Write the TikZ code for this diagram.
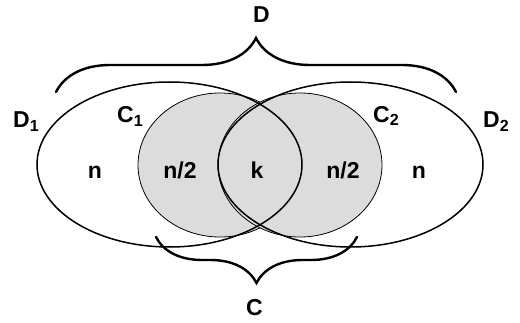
\documentclass[tikz,border=0pt]{standalone}
\usepackage{fontspec}
\setmainfont{Liberation Sans}
\usetikzlibrary{positioning,shapes.geometric,decorations.pathreplacing}
\definecolor{shade}{RGB}{220,220,220}
\tikzset{
  outer/.style={draw,ellipse,line width=1.5pt,minimum width=265pt,minimum height=165pt,inner sep=0pt},
  inner/.style={draw,ellipse,line width=0.8pt,fill=shade,minimum width=164pt,minimum height=144pt,inner sep=0pt},
  lab/.style={font=\fontsize{23}{26}\selectfont\bfseries,inner sep=0pt},
  brc/.style={decorate,line width=2.4pt,line cap=round}
}
\begin{document}
\begin{tikzpicture}[x=1pt,y=1pt]
    \useasboundingbox (0,0) rectangle (520,322);
    \node[inner] (C1) at (220,157) {};
    \node[inner] (C2) at (300,157) {};
    \node[outer] (D1) at (169.5,157.5) {};
    \node[outer] (D2) at (350.5,157.5) {};
    % region counts
    \foreach \x/\t [count=\i] in {95/n,180/n\slash2,257/k,343/n\slash2,419/n}
      \node[lab,anchor=base] (R\i) at (\x,144) {\t};
    % set labels
    \node[lab,anchor=base west] (lD1) at (13,194) {D\textsubscript{1}};
    \node[lab,anchor=base west] (lC1) at (117,199) {C\textsubscript{1}};
    \node[lab,anchor=base west] (lC2) at (373,200) {C\textsubscript{2}};
    \node[lab,anchor=base west] (lD2) at (483,194) {D\textsubscript{2}};
    \node[lab,anchor=base] (lD) at (261.5,299) {D};
    \node[lab,anchor=base] (lC) at (254.5,7) {C};
    % braces
    \coordinate (tl) at (56,230);
    \coordinate (tr) at (456,230);
    \coordinate (bl) at (156,85);
    \coordinate (br) at (357,85);
    \draw[brc,decoration={brace,amplitude=54pt}] (tl) -- (tr);
    \draw[brc,decoration={brace,amplitude=46pt}] (br) -- (bl);
\end{tikzpicture}
\end{document}
